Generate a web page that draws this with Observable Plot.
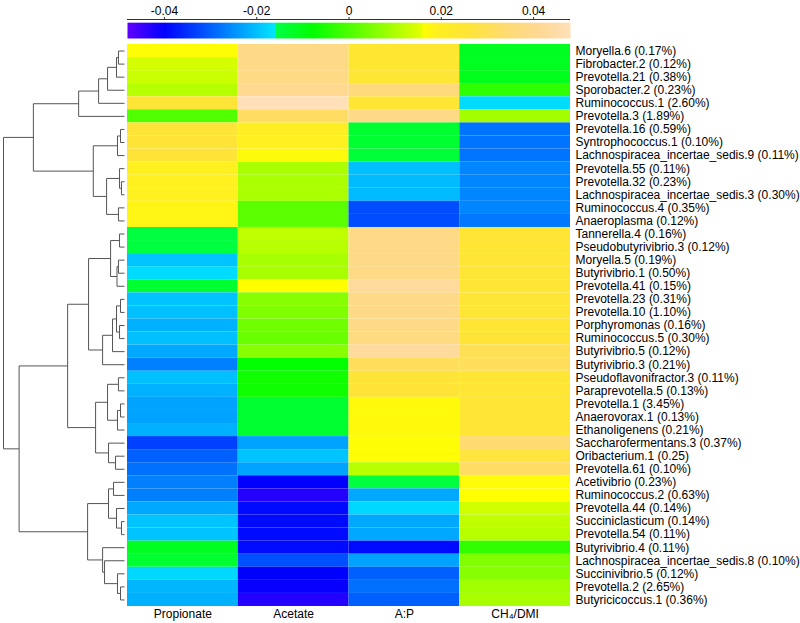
<!DOCTYPE html>
<html><head><meta charset="utf-8">
<script src="https://cdn.jsdelivr.net/npm/d3@7"></script>
<script src="https://cdn.jsdelivr.net/npm/@observablehq/plot@0.6"></script>
<style>
body{margin:0;background:#fff;font-family:"Liberation Sans",Arial,sans-serif;}
#chart{width:800px;height:623px;position:relative;overflow:hidden;}
#row{display:flex;}
svg{display:block;}
</style></head><body>
<div id="chart"><div id="bar"></div><div id="row"><div id="dend"></div><div id="heat"></div></div></div>
<script>
// ---- data ----
const rows = [
  "Moryella.6 (0.17%)","Fibrobacter.2 (0.12%)","Prevotella.21 (0.38%)","Sporobacter.2 (0.23%)",
  "Ruminococcus.1 (2.60%)","Prevotella.3 (1.89%)","Prevotella.16 (0.59%)","Syntrophococcus.1 (0.10%)",
  "Lachnospiracea_incertae_sedis.9 (0.11%)","Prevotella.55 (0.11%)","Prevotella.32 (0.23%)",
  "Lachnospiracea_incertae_sedis.3 (0.30%)","Ruminococcus.4 (0.35%)","Anaeroplasma (0.12%)",
  "Tannerella.4 (0.16%)","Pseudobutyrivibrio.3 (0.12%)","Moryella.5 (0.19%)","Butyrivibrio.1 (0.50%)",
  "Prevotella.41 (0.15%)","Prevotella.23 (0.31%)","Prevotella.10 (1.10%)","Porphyromonas (0.16%)",
  "Ruminococcus.5 (0.30%)","Butyrivibrio.5 (0.12%)","Butyrivibrio.3 (0.21%)","Pseudoflavonifractor.3 (0.11%)",
  "Paraprevotella.5 (0.13%)","Prevotella.1 (3.45%)","Anaerovorax.1 (0.13%)","Ethanoligenens (0.21%)",
  "Saccharofermentans.3 (0.37%)","Oribacterium.1 (0.25)","Prevotella.61 (0.10%)","Acetivibrio (0.23%)",
  "Ruminococcus.2 (0.63%)","Prevotella.44 (0.14%)","Succiniclasticum (0.14%)","Prevotella.54 (0.11%)",
  "Butyrivibrio.4 (0.11%)","Lachnospiracea_incertae_sedis.8 (0.10%)","Succinivibrio.5 (0.12%)",
  "Prevotella.2 (2.65%)","Butyricicoccus.1 (0.36%)"
];
const columns = ["Propionate","Acetate","A:P","CH\u2084/DMI"];
const propionate = [0.0165,0.014,0.013,0.011,0.026,0.0003,0.026,0.026,0.026,0.019,0.019,0.019,0.018,0.018,
  -0.015,-0.015,-0.0195,-0.017,-0.0133,-0.0195,-0.020,-0.0215,-0.020,-0.0225,-0.0266,-0.020,-0.0215,-0.023,
  -0.023,-0.0215,-0.0333,-0.030,-0.0283,-0.0266,-0.0266,-0.0225,-0.0195,-0.0195,-0.0116,-0.0133,-0.0175,-0.021,-0.0215];
const acetate = [0.038,0.038,0.038,0.040,0.048,0.032,0.020,0.019,0.017,0.0097,0.0097,0.0097,0.0014,0.0014,
  0.012,0.011,0.0095,0.0095,0.016,0.0062,0.0054,0.0037,0.003,0.0062,-0.008,-0.0063,-0.0063,-0.0133,
  -0.0133,-0.0133,-0.023,-0.0195,-0.023,-0.040,-0.043,-0.039,-0.039,-0.039,-0.039,-0.0317,-0.040,-0.0405,-0.043];
const ap = [0.024,0.024,0.025,0.036,0.025,0.038,-0.0133,-0.0133,-0.014,-0.020,-0.0205,-0.0205,-0.032,-0.032,
  0.038,0.038,0.038,0.038,0.043,0.038,0.038,0.038,0.037,0.043,0.031,0.026,0.026,0.017,
  0.017,0.017,0.0165,0.0165,0.0112,-0.015,-0.0225,-0.0175,-0.0225,-0.0225,-0.039,-0.023,-0.030,-0.0283,-0.030];
const ch4 = [-0.0116,-0.0116,-0.011,-0.003,-0.017,0.009,-0.028,-0.028,-0.028,-0.026,-0.026,-0.026,-0.026,-0.0275,
  0.025,0.025,0.025,0.025,0.025,0.025,0.025,0.025,0.026,0.030,0.031,0.025,0.025,0.025,
  0.025,0.025,0.034,0.027,0.032,0.0168,0.016,0.0137,0.012,0.0112,-0.003,0.0054,0.0062,0.0087,0.0095];
const colorbarTicks = [-0.04,-0.02,0,0.02,0.04];
// dendrogram merges: [left, right, height]; numbers = row index, "nK" = K-th merge (1-based)
const merges = [
  [0,1,0.05],["n1",2,0.066],["n2",3,0.14],["n3",4,0.214],["n4",5,0.379],
  [6,7,0.033],["n6",8,0.058],[10,11,0.025],[9,"n8",0.041],[12,13,0.05],
  ["n9","n10",0.148],["n7","n11",0.258],["n5","n12",0.753],
  [14,15,0.041],[16,17,0.05],["n15",18,0.062],["n14","n16",0.115],
  [19,20,0.033],[21,22,0.041],["n18","n19",0.066],["n20",23,0.099],["n21",24,0.181],
  ["n17","n22",0.297],[25,26,0.05],[27,28,0.033],["n25",29,0.058],["n24","n26",0.14],
  [31,32,0.074],[30,"n28",0.132],["n27","n29",0.239],["n23","n30",0.47],
  [33,34,0.091],[36,37,0.025],[35,"n33",0.066],["n32","n34",0.132],
  [41,42,0.033],[40,"n36",0.058],[39,"n37",0.165],[38,"n38",0.181],
  ["n35","n39",0.305],["n31","n40",0.871],["n13","n41",1.0]
];

// ---- scales ----
const colorScale = {
  type: "linear",
  domain: [-0.048,-0.04,-0.016,-0.01599,-0.008,0.01599,0.016,0.019,0.026,0.035,0.042,0.048],
  range: ["#6000ff","#0000ff","#00e6ff","#00ff48","#00ff00","#e6ff00","#ffff00","#fff020","#ffe438","#ffda78","#ffd998","#ffe0b8"],
  interpolate: "rgb",
  clamp: true
};
const font = {fontFamily: "'Liberation Sans', Arial, sans-serif", fontSize: "12px", color: "#000", background: "#fff"};

// ---- table ----
const series = [propionate, acetate, ap, ch4];
const table = [];
rows.forEach((r, i) => columns.forEach((c, j) => table.push({row: r, col: c, value: series[j][i]})));

// ---- dendrogram segments ----
const nodes = {};
function pos(ref) {
  if (typeof ref === "number") return {y: ref, h: 0};
  return nodes[ref];
}
const segs = [];
merges.forEach(([a, b, h], k) => {
  const A = pos(a), B = pos(b);
  segs.push({x1: A.h, y1: A.y, x2: h, y2: A.y});
  segs.push({x1: B.h, y1: B.y, x2: h, y2: B.y});
  segs.push({x1: h, y1: A.y, x2: h, y2: B.y});
  nodes["n" + (k + 1)] = {y: (A.y + B.y) / 2, h};
});

const H = 579, MB = 17;

// ---- colour bar ----
const bar = Plot.plot({
  width: 800, height: 44,
  marginLeft: 127, marginRight: 230, marginTop: 19, marginBottom: 6,
  style: font,
  x: {domain: [-0.048, 0.048]},
  y: {domain: [0, 1.2], axis: null},
  color: colorScale,
  marks: [
    Plot.raster({x1: -0.048, x2: 0.048, y1: 0, y2: 1, fill: (x, y) => x, pixelSize: 1}),
    Plot.ruleY([1.2], {stroke: "#333", strokeWidth: 1}),
    Plot.axisX({anchor: "top", ticks: colorbarTicks, tickFormat: d => String(d), tickSize: 3, tickPadding: 2, fontSize: 12, label: null, stroke: "#333"})
  ]
});
document.getElementById("bar").appendChild(bar);

// ---- dendrogram ----
const dend = Plot.plot({
  width: 127, height: H,
  marginLeft: 3, marginRight: 3, marginTop: 0, marginBottom: MB,
  style: font,
  x: {domain: [1, 0], axis: null},
  y: {domain: [rows.length - 0.5, -0.5], axis: null},
  marks: [
    Plot.link(segs, {x1: "x1", y1: "y1", x2: "x2", y2: "y2", stroke: "#555", strokeWidth: 1})
  ]
});
document.getElementById("dend").appendChild(dend);

// ---- heatmap ----
const heat = Plot.plot({
  width: 673, height: H,
  marginLeft: 0, marginRight: 230, marginTop: 0, marginBottom: MB,
  style: font,
  x: {domain: columns, padding: 0, round: false},
  y: {domain: rows, padding: 0, round: false},
  color: colorScale,
  marks: [
    Plot.cell(table, {x: "col", y: "row", fill: "value"}),
    Plot.axisY({anchor: "right", tickSize: 0, tickPadding: 5, fontSize: 12, label: null}),
    Plot.axisX({anchor: "bottom", tickSize: 0, tickPadding: 3, fontSize: 12, label: null})
  ]
});
document.getElementById("heat").appendChild(heat);
</script>
</body></html>
